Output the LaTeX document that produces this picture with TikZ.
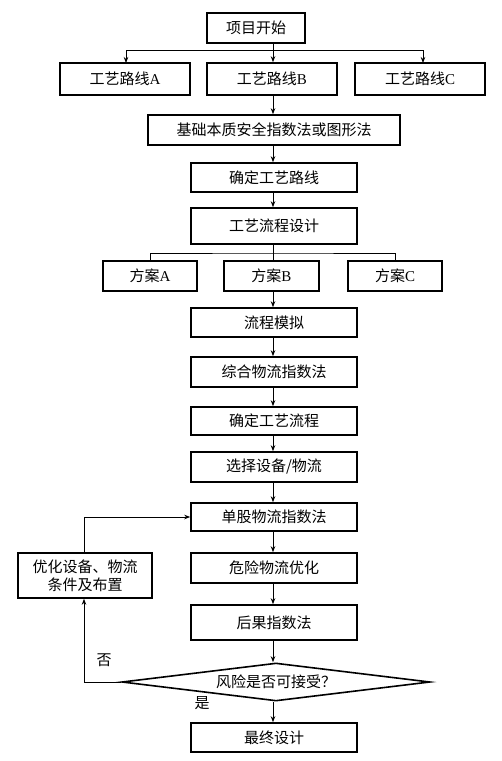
\documentclass[tikz,border=0pt]{standalone}
\usepackage{fontspec}
\setmainfont{Liberation Serif}
\newfontfamily\cjk{Noto Sans CJK SC}
\usetikzlibrary{arrows.meta,shapes.geometric}
\tikzset{
  box/.style={draw, line width=1.6pt, inner sep=0pt, font=\cjk\fontsize{15}{18}\selectfont, align=center},
  conn/.style={line width=0.8pt},
  arr/.style={conn, -{Stealth[length=6pt,width=4.5pt]}},
  lbl/.style={font=\cjk\fontsize{15}{18}\selectfont, inner sep=0pt}
}
\newcommand{\lat}[1]{{\fontspec{Liberation Serif}#1}}
\begin{document}
\begin{tikzpicture}[x=1pt,y=-1pt]
\useasboundingbox (0,0) rectangle (502,761);
\fill[white] (0,0) rectangle (502,761);

\node[box, minimum width=98, minimum height=30] (start) at (256,28) {项目开始};
\node[box, minimum width=130, minimum height=32] (rA) at (125,79) {工艺路线\lat{A}};
\node[box, minimum width=130, minimum height=32] (rB) at (272,79) {工艺路线\lat{B}};
\node[box, minimum width=130, minimum height=32] (rC) at (420,79) {工艺路线\lat{C}};
\node[box, minimum width=252, minimum height=30] (base) at (274,130) {基础本质安全指数法或图形法};
\node[box, minimum width=166, minimum height=29] (route) at (274,177.5) {确定工艺路线};
\node[box, minimum width=166, minimum height=36] (design) at (274,226) {工艺流程设计};
\node[box, minimum width=94, minimum height=30] (pA) at (150,276) {方案\lat{A}};
\node[box, minimum width=95, minimum height=30] (pB) at (271.5,276) {方案\lat{B}};
\node[box, minimum width=94, minimum height=30] (pC) at (395,276) {方案\lat{C}};
\node[box, minimum width=166, minimum height=29] (sim) at (274,322.5) {流程模拟};
\node[box, minimum width=166, minimum height=30] (comp) at (274,372) {综合物流指数法};
\node[box, minimum width=166, minimum height=28] (proc) at (274,421) {确定工艺流程};
\node[box, minimum width=166, minimum height=30] (equip) at (274,467) {选择设备/物流};
\node[box, minimum width=166, minimum height=28] (single) at (274,517) {单股物流指数法};
\node[box, minimum width=166, minimum height=30] (hazard) at (274,568) {危险物流优化};
\node[box, minimum width=166, minimum height=35] (conseq) at (274,622.5) {后果指数法};
\node[box, shape=diamond, minimum width=308, minimum height=38, aspect=8.1] (dec) at (276,682) {风险是否可接受？};
\node[box, minimum width=134, minimum height=45] (opt) at (85,575.5) {优化设备、物流\\条件及布置};

\node[box, minimum width=166, minimum height=29] (final) at (274,737.5) {最终设计};

\node[lbl] (no) at (104,660) {否};
\node[lbl] (yes) at (202,703) {是};

\coordinate (j1) at (273,50);
\draw[conn] (start.south -| j1) -- (j1);
\draw[conn] (126,50) -- (423,50);
\draw[arr] (126,50) -- (126,63);
\draw[arr] (j1) -- (rB.north -| j1);
\draw[arr] (423,50) -- (423,63);
\draw[arr] (rB.south -| j1) -- (base.north -| j1);
\draw[arr] (base.south -| j1) -- (route.north -| j1);
\draw[arr] (route.south -| j1) -- (design.north -| j1);

\coordinate (j2) at (273,253);
\draw[conn] (design.south -| j2) -- (j2);
\draw[conn] (pA.north) |- (j2) -| (pC.north);
\draw[conn] (j2) -- (pB.north -| j2);

\draw[arr] (pB.south -| j1) -- (sim.north -| j1);
\draw[arr] (sim.south -| j1) -- (comp.north -| j1);
\draw[arr] (comp.south -| j1) -- (proc.north -| j1);
\draw[arr] (proc.south -| j1) -- (equip.north -| j1);
\draw[arr] (equip.south -| j1) -- (single.north -| j1);
\draw[arr] (single.south -| j1) -- (hazard.north -| j1);
\draw[arr] (hazard.south -| j1) -- (conseq.north -| j1);
\draw[arr] (conseq.south -| j1) -- (dec.north -| j1);
\draw[arr] (dec.south -| j1) -- (final.north -| j1);

\coordinate (fb1) at (84,682);
\coordinate (fb2) at (84,517);
\draw[arr] (dec.west) -- (fb1) -- (opt.south -| fb1);
\draw[arr] (opt.north -| fb2) -- (fb2) -- (single.west);
\end{tikzpicture}
\end{document}
